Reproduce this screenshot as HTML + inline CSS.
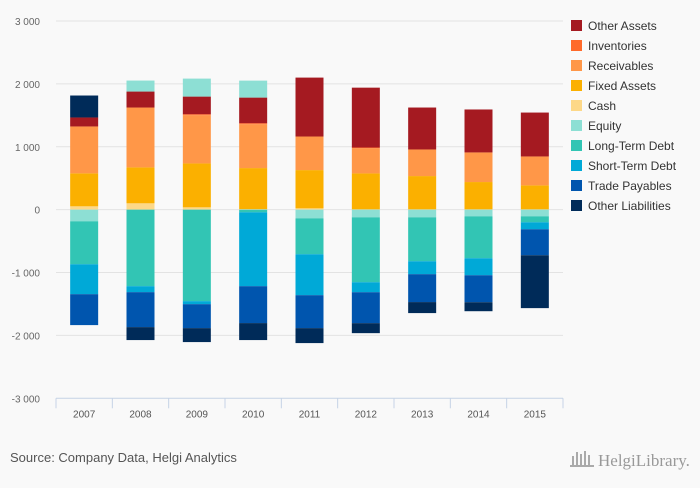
<!DOCTYPE html>
<html><head><meta charset="utf-8"><style>
body{margin:0;background:#f9f9f9;font-family:"Liberation Sans",sans-serif;}
svg text{font-family:"Liberation Sans",sans-serif;}
</style></head><body>
<svg id="c" width="700" height="483">
<rect width="700" height="483" fill="#f9f9f9"/>
<g id="grid"></g><g id="bars"></g><g id="axes"></g><g id="legend"></g>
<text x="10" y="462" font-size="13" fill="#555">Source: Company Data, Helgi Analytics</text>
<text x="598" y="466" font-size="17" fill="#999" style="font-family:'Liberation Serif',serif">HelgiLibrary.</text>
<g fill="#aaa"><rect x="572" y="456" width="2" height="10"/><rect x="576" y="452" width="2" height="14"/><rect x="580" y="454" width="2" height="12"/><rect x="584" y="451" width="2" height="15"/><rect x="588" y="455" width="2" height="11"/><rect x="570" y="465" width="24" height="2"/></g>
</svg>
<script>
const categories=["2007","2008","2009","2010","2011","2012","2013","2014","2015"];
const seriesNames=["Other Assets","Inventories","Receivables","Fixed Assets","Cash","Equity","Long-Term Debt","Short-Term Debt","Trade Payables","Other Liabilities"];
const colors=["#a51a21","#ff6a2a","#ff9748","#fbb000","#fdd888","#8ddfd4","#32c5b4","#00a9d7","#0055ae","#002b59"];
const otherAssets=[143,254,280,407,937,952,667,683,698];
const inventories=[0,0,16,16,0,10,0,0,0];
const receivables=[746,952,767,698,534,402,423,471,460];
const fixedAssets=[524,571,698,651,608,571,529,434,381];
const cash=[53,101,37,10,21,5,5,5,5];
const equity=[-185,175,286,270,-138,-122,-122,-106,-106];
const longTermDebt=[-683,-1217,-1455,-42,-571,-1032,-698,-667,-95];
const shortTermDebt=[-476,-95,-48,-1175,-651,-159,-206,-270,-111];
const tradePayables=[-492,-556,-381,-587,-524,-492,-444,-429,-413];
const otherLiabilities=[349,-206,-222,-270,-238,-159,-175,-143,-841];
const yTicks=[3000,2000,1000,0,-1000,-2000,-3000];
const yTickLabels=["3 000","2 000","1 000","0","-1 000","-2 000","-3 000"];
const stackOrder=[cash,fixedAssets,receivables,inventories,otherAssets,equity,longTermDebt,shortTermDebt,tradePayables,otherLiabilities];
const stackColor=[4,3,2,1,0,5,6,7,8,9];
const NS="http://www.w3.org/2000/svg";
const x0=56,x1=563,yTop=21,yBot=398.3,vMax=3000,vMin=-3000;
const y=v=>yTop+(vMax-v)/(vMax-vMin)*(yBot-yTop);
const band=(x1-x0)/categories.length;
const xc=i=>x0+band*(i+0.5);
const bw=28;
function el(t,a,p){const e=document.createElementNS(NS,t);for(const k in a)e.setAttribute(k,a[k]);p.appendChild(e);return e;}
const G=document.getElementById('grid'),B=document.getElementById('bars'),A=document.getElementById('axes'),L=document.getElementById('legend');
yTicks.forEach((v,i)=>{
 if(v!==vMin){const l=el('line',{x1:x0,x2:x1,y1:y(v),y2:y(v),stroke:'#e3e3e3','stroke-width':1},G);
 
 }
 const t=el('text',{x:40,y:y(v)+4,'font-size':10,fill:'#666','text-anchor':'end'},A);t.textContent=yTickLabels[i];
 
 
});
const ax=el('line',{x1:x0,x2:x1,y1:yBot,y2:yBot,stroke:'#c6d3e6'},A);


for(let i=0;i<=categories.length;i++){const tk=el('line',{x1:x0+band*i,x2:x0+band*i,y1:yBot,y2:yBot+10,stroke:'#c6d3e6'},A);
 
 }
categories.forEach((c,i)=>{
 const t=el('text',{x:xc(i),y:yBot+19,'font-size':10,fill:'#555','text-anchor':'middle'},A);t.textContent=c;
 
 
 let pos=0,neg=0;
 stackOrder.forEach((arr,s)=>{
  const v=arr[i];if(!v)return;
  let a,b;if(v>0){a=pos;b=pos+v;pos=b;}else{a=neg;b=neg+v;neg=b;}
  const r=el('rect',{x:xc(i)-bw/2,y:Math.min(y(a),y(b)),width:bw,height:Math.abs(y(a)-y(b)),fill:colors[stackColor[s]]},B);
  
  
 });
});
seriesNames.forEach((n,i)=>{
 const g=el('g',{},L);
 
 
 el('rect',{x:571,y:20+i*20,width:11,height:11,fill:colors[i]},g);
 const t=el('text',{x:588,y:30+i*20,'font-size':12,fill:'#333'},g);t.textContent=n;
});
</script>
</body></html>
